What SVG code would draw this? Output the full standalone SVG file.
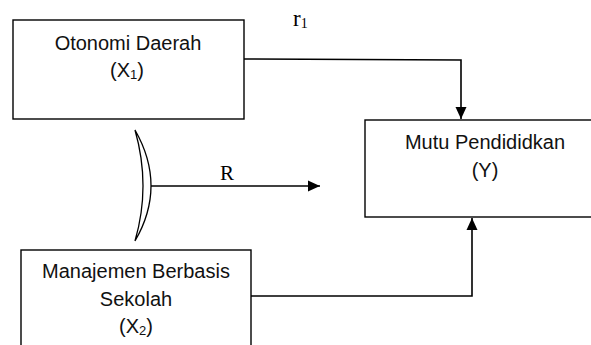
<svg xmlns="http://www.w3.org/2000/svg" width="591" height="345" viewBox="0 0 591 345">
<style>
.box{fill:#fff;stroke:#000;stroke-width:1.4}
.lbl{font-family:"Liberation Sans",Arial,sans-serif;font-size:20px;fill:#111;text-anchor:middle}
.sub{font-size:13px}
.ser{font-family:"Liberation Serif","Times New Roman",serif;fill:#000}
.con{fill:none;stroke:#000;stroke-width:1.6}
</style>
<defs>
<marker id="ah" markerUnits="userSpaceOnUse" markerWidth="12" markerHeight="12" viewBox="0 0 12 12" refX="12" refY="6" orient="auto">
<path d="M0,0.5 L12,6 L0,11.5 Z" fill="#000"/>
</marker>
</defs>
<rect width="591" height="345" fill="#fff"/>
<g id="connectors">
<polyline class="con" points="244,59 461,60 461,119" marker-end="url(#ah)"/>
<polyline class="con" points="251,296 472,296 472,218" marker-end="url(#ah)"/>
<line class="con" x1="151" y1="186" x2="320" y2="186" marker-end="url(#ah)"/>
<path d="M135,130 Q167,186 135,241 Q151,186 135,130 Z" fill="#fff" stroke="#000" stroke-width="1.3"/>
<text class="ser" x="220" y="180" font-size="21">R</text>
<text class="ser" x="293" y="26" font-size="23">r<tspan font-size="14" dy="2">1</tspan></text>
</g>
<g id="node-x1">
<rect class="box" x="13" y="20" width="231" height="99"/>
<text class="lbl" x="128" y="50">Otonomi Daerah</text>
<text class="lbl" x="127" y="77">(X<tspan class="sub" dy="2">1</tspan><tspan dy="-2">)</tspan></text>
</g>
<g id="node-y">
<rect class="box" x="365" y="120" width="240" height="97"/>
<text class="lbl" x="485" y="149">Mutu Pendididkan</text>
<text class="lbl" x="485" y="177">(Y)</text>
</g>
<g id="node-x2">
<rect class="box" x="21" y="250" width="230" height="110"/>
<text class="lbl" x="136" y="278">Manajemen Berbasis</text>
<text class="lbl" x="136" y="306">Sekolah</text>
<text class="lbl" x="136" y="333">(X<tspan class="sub" dy="2">2</tspan><tspan dy="-2">)</tspan></text>
</g>
</svg>
